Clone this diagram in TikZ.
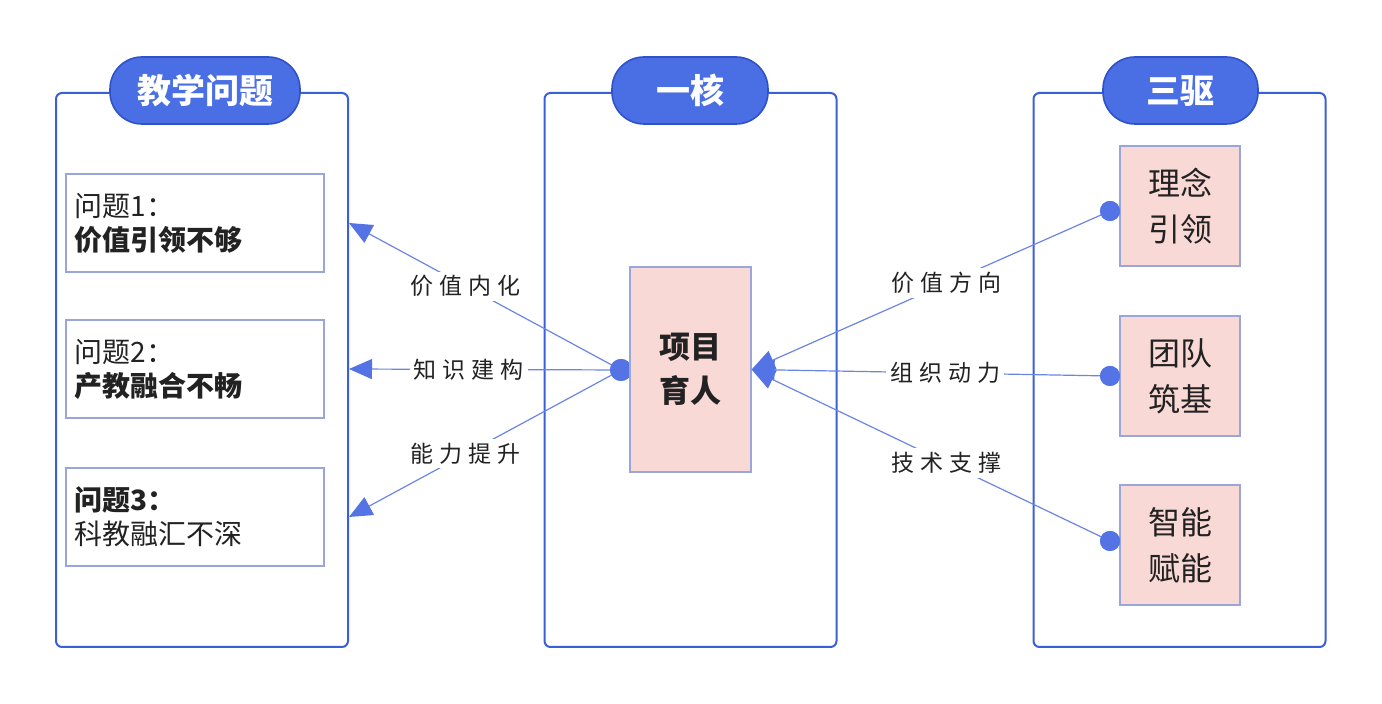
\documentclass[tikz,border=0pt]{standalone}
\usepackage{fontspec}
\setmainfont{Noto Sans CJK SC}
\newfontfamily\cjk{Noto Sans CJK SC}
\usetikzlibrary{arrows.meta}
\definecolor{panelc}{HTML}{3A60D8}
\definecolor{pillf}{HTML}{4A6EE4}
\definecolor{pilld}{HTML}{2F52C8}
\definecolor{linec}{HTML}{6B86E2}
\definecolor{dotc}{HTML}{5474E6}
\definecolor{boxd}{HTML}{9AA5DA}
\definecolor{pinkf}{HTML}{F9D9D6}
\definecolor{txt}{HTML}{222222}
\newcommand{\lsp}{\kern3pt}
\tikzset{
  panel/.style={draw=panelc, line width=1pt, rounded corners=3pt, minimum width=146pt, minimum height=277pt, fill=white},
  pill/.style={draw=pilld, line width=0.8pt, fill=pillf, rounded corners=16pt, minimum height=33.5pt, text=white, font=\cjk\bfseries\fontsize{17}{20}\selectfont},
  qbox/.style={draw=boxd, line width=0.6pt, minimum width=129pt, minimum height=49pt},
  qtext/.style={anchor=west, align=left, text=txt, font=\cjk\fontsize{14}{17}\selectfont, inner sep=0pt},
  pbox/.style={draw=boxd, line width=0.6pt, fill=pinkf, align=center, text=txt},
  dotn/.style={circle, fill=dotc, minimum size=10pt, inner sep=0pt},
  conn/.style={draw=linec, line width=0.6pt},
  tip/.style={-{Triangle[length=11.5pt,width=10pt,fill=dotc,color=dotc]}},
  lbl/.style={fill=white, text=txt, font=\cjk\fontsize{11.5}{13}\selectfont, inner sep=2pt}
}
\begin{document}
\begin{tikzpicture}[x=0.5pt,y=-0.5pt]
\useasboundingbox (0,0) rectangle (1382,704);
% panels
\node[panel] (pL) at (202,370) {};
\node[panel] (pM) at (690.5,370) {};
\node[panel] (pR) at (1179.5,370) {};
\node[pill, minimum width=95pt] (tL) at (205,90.5) {教学问题};
\node[pill, minimum width=78pt] (tM) at (690,90.5) {一核};
\node[pill, minimum width=77.5pt] (tR) at (1180.5,90.5) {三驱};
% left boxes
\node[qbox] (b1) at (195,223) {};
\node[qbox] (b2) at (195,369) {};
\node[qbox] (b3) at (195,517) {};
\node[qtext] (q1) at ([xshift=4.5pt]b1.west) {问题1：\\\textbf{价值引领不够}};
\node[qtext] (q2) at ([xshift=4.5pt]b2.west) {问题2：\\\textbf{产教融合不畅}};
\node[qtext] (q3) at ([xshift=4.5pt]b3.west) {\textbf{问题3：}\\科教融汇不深};
% center
\node[dotn, minimum size=11pt] (dL) at (621,370) {};
% right boxes
\node[pbox, minimum width=60pt, minimum height=60pt, font=\cjk\fontsize{16}{23}\selectfont] (r1) at (1180,206) {理念\\引领};
\node[pbox, minimum width=60pt, minimum height=60pt, font=\cjk\fontsize{16}{23}\selectfont] (r2) at (1180,376) {团队\\筑基};
\node[pbox, minimum width=60pt, minimum height=60pt, font=\cjk\fontsize{16}{23}\selectfont] (r3) at (1180,545) {智能\\赋能};
\node[dotn] (d1) at (1110,211) {};
\node[dotn] (d2) at (1110,376) {};
\node[dotn] (d3) at (1110,541) {};
% arrow tips on left panel
\coordinate (a1) at (pL.east |- b1.east);
\coordinate (a2) at (pL.east |- b2.east);
\coordinate (a3) at (pL.east |- b3.east);
% left connectors
\draw[conn, tip] (dL.center) -- node[lbl, pos=0.57] (l1) {价\lsp 值\lsp 内\lsp 化} (a1);
\draw[conn, tip] (dL.center) -- node[lbl, pos=0.56] (l2) {知\lsp 识\lsp 建\lsp 构} (a2);
\draw[conn, tip] (dL.center) -- node[lbl, pos=0.57] (l3) {能\lsp 力\lsp 提\lsp 升} (a3);
\node[dotn, minimum size=11pt] at (dL) {};
\node[pbox, minimum width=60.5pt, minimum height=102.5pt, font=\cjk\bfseries\fontsize{15.5}{22}\selectfont] (c) at (690.5,369.5) {项目\\育人};
% right connectors
\draw[conn, tip] (d1.center) -- node[lbl, pos=0.455] (l4) {价\lsp 值\lsp 方\lsp 向} (c.east);
\draw[conn, tip] (d2.center) -- node[lbl, pos=0.46] (l5) {组\lsp 织\lsp 动\lsp 力} (c.east);
\draw[conn, tip] (d3.center) -- node[lbl, pos=0.455] (l6) {技\lsp 术\lsp 支\lsp 撑} (c.east);
\node[dotn] at (d1) {};
\node[dotn] at (d2) {};
\node[dotn] at (d3) {};
\end{tikzpicture}
\end{document}
